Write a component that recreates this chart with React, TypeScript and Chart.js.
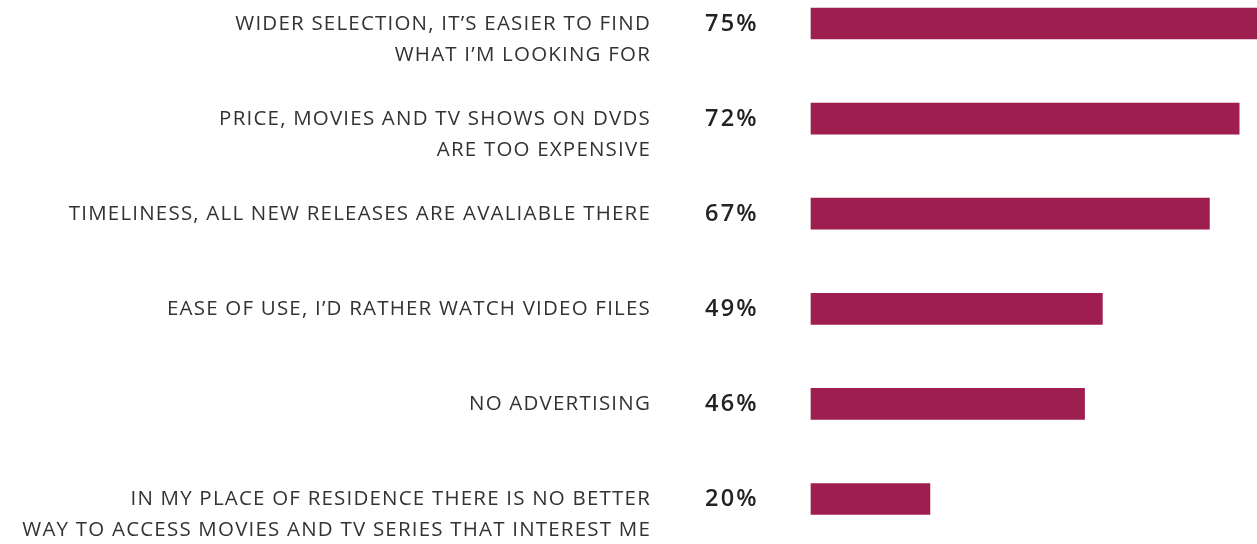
import React, { useEffect, useRef } from "react";
import { Chart, registerables } from "chart.js";

Chart.register(...registerables);

const categories: string[][] = [
  ["WIDER SELECTION, IT\u2019S EASIER TO FIND", "WHAT I\u2019M LOOKING FOR"],
  ["PRICE, MOVIES AND TV SHOWS ON DVDS", "ARE TOO EXPENSIVE"],
  ["TIMELINESS, ALL NEW RELEASES ARE AVALIABLE THERE"],
  ["EASE OF USE, I\u2019D RATHER WATCH VIDEO FILES"],
  ["NO ADVERTISING"],
  ["IN MY PLACE OF RESIDENCE THERE IS NO BETTER", "WAY TO ACCESS MOVIES AND TV SERIES THAT INTEREST ME"],
];
const values: number[] = [75, 72, 67, 49, 46, 20];
const barColor = "#9E1F4F";

const labelPlugin = {
  id: "rowLabels",
  afterDatasetsDraw(chart: any) {
    const ctx = chart.ctx;
    const yScale = chart.scales.y;
    const left = chart.chartArea.left;
    ctx.save();
    values.forEach((v, i) => {
      const y = yScale.getPixelForTick(i);
      ctx.font = "20.5px 'Open Sans'";
      (ctx as any).letterSpacing = "1.2px";
      ctx.fillStyle = "#333333";
      ctx.textAlign = "right";
      ctx.textBaseline = "middle";
      categories[i].forEach((line, j) => {
        ctx.fillText(line, left - 160, y + 0.5 + j * 31);
      });
      ctx.font = "600 23.5px 'Open Sans'";
      (ctx as any).letterSpacing = "2.2px";
      ctx.fillStyle = "#222222";
      ctx.textAlign = "left";
      ctx.fillText(v + "%", left - 106, y + 0.5);
    });
    ctx.restore();
  },
};

export default function App() {
  const ref = useRef<HTMLCanvasElement | null>(null);
  useEffect(() => {
    document.body.style.margin = "0";
    const chart = new Chart(ref.current as HTMLCanvasElement, {
      type: "bar",
      data: {
        labels: categories.map((c) => c.join(" ")),
        datasets: [
          {
            data: values,
            backgroundColor: barColor,
            borderWidth: 0,
            barThickness: 31,
            clip: false as any,
          },
        ],
      },
      options: {
        indexAxis: "y",
        responsive: false,
        animation: false,
        layout: { padding: { left: 811, right: 0, top: 23.5, bottom: 45 } },
        plugins: { legend: { display: false }, tooltip: { enabled: false } },
        scales: {
          x: { display: false, min: 0, max: 75 },
          y: { display: false, offset: false, grid: { display: false } },
        },
      },
      plugins: [labelPlugin],
    });
    return () => chart.destroy();
  }, []);
  return (
    <div style={{ position: "absolute", left: 0, top: 0, width: 1257, height: 544, background: "#fff" }}>
      <canvas ref={ref} width={1257} height={544} />
    </div>
  );
}
